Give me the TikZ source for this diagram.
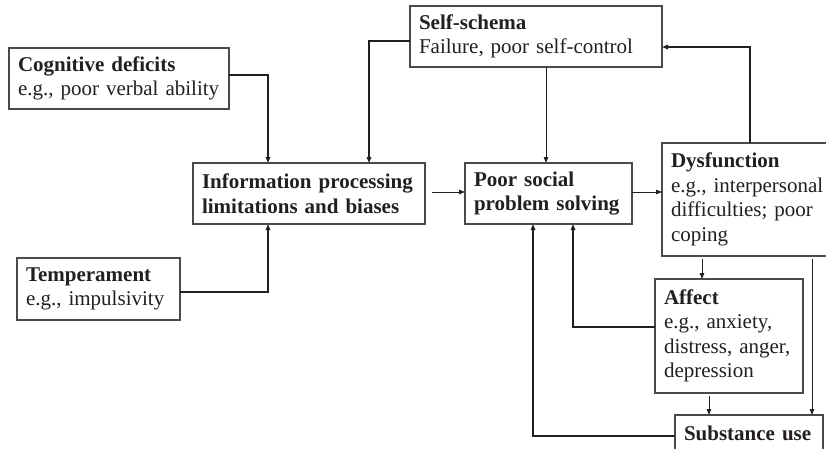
\documentclass[tikz,border=0pt]{standalone}
\usepackage{fontspec}
\setmainfont{Liberation Serif}
\usetikzlibrary{arrows.meta}
\definecolor{ink}{HTML}{231F20}
\definecolor{edge}{HTML}{4A4A4A}
\begin{document}
\begin{tikzpicture}[x=1pt,y=-1pt,
  box/.style={draw=edge, line width=1.1pt, rectangle, anchor=north west, align=left,
    inner xsep=9pt, inner ysep=0pt, outer sep=0pt, text=ink,
    font=\fontsize{21}{24.5}\selectfont},
  tip/.style={-{Triangle[length=6pt,width=4.5pt]}},
  elbow/.style={draw=ink, line width=1.5pt, tip},
  thinarr/.style={draw=ink, line width=0.9pt, tip}]
\useasboundingbox[fill=white] (0,0) rectangle (826,448);
\clip (0,0) rectangle (826,448);

\node[box, text width=202pt, minimum height=61pt] (cog) at (9,48)
  {\textbf{Cognitive deficits}\\e.g., poor verbal ability};
\node[box, text width=234pt, minimum height=61pt] (self) at (410,6)
  {\textbf{Self-schema}\\Failure, poor self-control};
\node[box, text width=214pt, minimum height=61pt] (info) at (193,163)
  {\textbf{Information processing}\\\textbf{limitations and biases}};
\node[box, text width=149pt, minimum height=61pt] (poor) at (465,163)
  {\textbf{Poor social}\\\textbf{problem solving}};
\node[box, text width=160pt, minimum height=113pt] (dys) at (662,143)
  {\textbf{Dysfunction}\\e.g., interpersonal\\difficulties; poor\\coping};
\node[box, text width=145pt, minimum height=62pt] (temp) at (17,258)
  {\textbf{Temperament}\\e.g., impulsivity};
\node[box, text width=130pt, minimum height=114pt] (aff) at (655,279)
  {\textbf{Affect}\\e.g., anxiety,\\distress, anger,\\depression};
\node[box, text width=130pt, minimum height=37pt] (sub) at (675,415)
  {\textbf{Substance use}};

\draw[elbow] (cog.east |- 0,75) -| (info.north -| 268,0);
\draw[elbow] (self.west |- 0,41) -| (info.north -| 369,0);
\draw[elbow] (temp.east |- 0,292) -| (info.south -| 268,0);
\draw[thinarr, shorten <=7pt] (info.east |- 0,192) -- (poor.west |- 0,192);
\draw[thinarr] (poor.east |- 0,192) -- (dys.west |- 0,192);
\draw[thinarr] (self.south -| 546,0) -- (poor.north -| 546,0);
\draw[elbow] (dys.north -| 750,0) |- (self.east |- 0,47);
\draw[thinarr, shorten <=3pt] (dys.south -| 702,0) -- (aff.north -| 702,0);
\draw[thinarr, shorten <=3pt] (dys.south -| 812,0) -- (sub.north -| 812,0);
\draw[thinarr, shorten <=3pt] (aff.south -| 709,0) -- (sub.north -| 709,0);
\draw[elbow] (aff.west |- 0,327) -| (poor.south -| 573,0);
\draw[elbow] (sub.west |- 0,436) -| (poor.south -| 533,0);
\end{tikzpicture}
\end{document}
